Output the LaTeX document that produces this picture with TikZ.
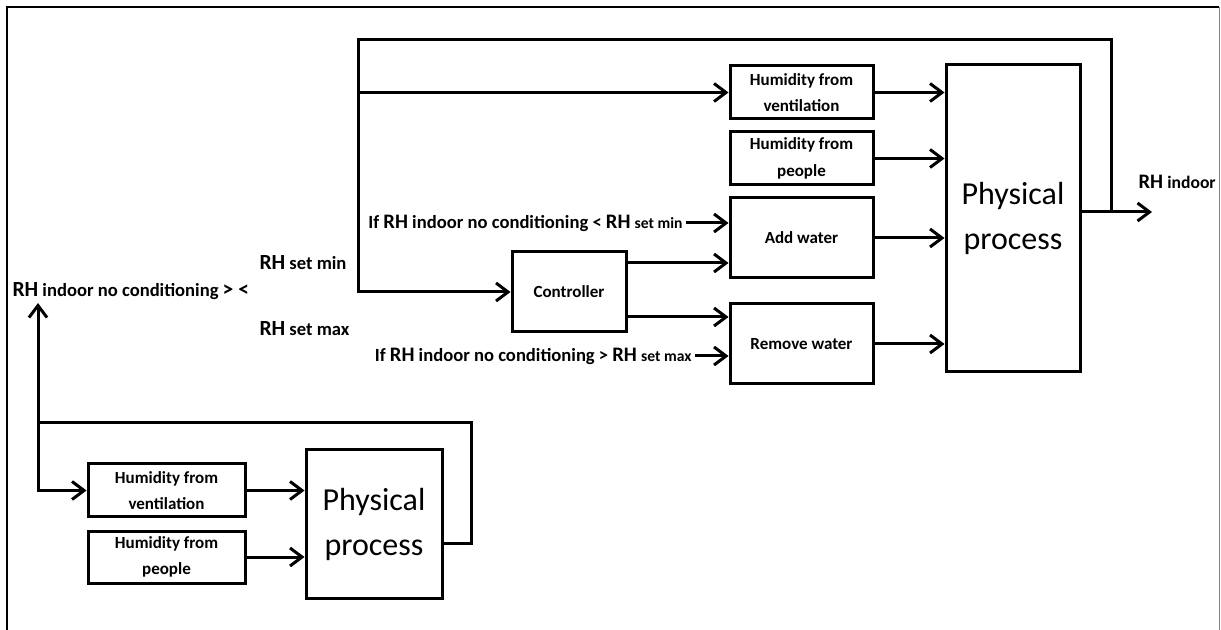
\documentclass[tikz,border=0pt]{standalone}
\usepackage{fontspec}
\setmainfont{Carlito}
\usepackage{tikz}
\usetikzlibrary{arrows.meta, calc}

\newcommand{\rh}{{\fontsize{10.8}{12}\selectfont RH}}
\newcommand{\rhs}{{\fontsize{10.3}{12}\selectfont RH}}

\begin{document}
\begin{tikzpicture}[x=0.5pt, y=-0.5pt,
    line width=1.5pt,
    blk/.style={draw, line width=1.5pt, inner sep=0pt, align=center,
      font=\bfseries\fontsize{8.5}{13.3}\selectfont},
    proc/.style={draw, line width=1.5pt, inner sep=0pt, align=center,
      font=\fontsize{16}{22.5}\selectfont},
    lbl/.style={inner sep=1pt, font=\bfseries\fontsize{9.3}{11}\selectfont},
    arr/.style={-{Straight Barb[length=6pt,width=9pt]}}]

  \useasboundingbox (0,0) rectangle (1221,630);

  %% Frame
  \draw[line width=1pt] (7,630) -- (7,7) -- (1219,7);
  \draw[line width=0.5pt, gray] (1219,7) -- (1219,630);

  %% Upper loop: with conditioning
  \node[blk, minimum width=71.5pt, minimum height=26.5pt] (uvent) at (801.5,92.5)
    {Humidity from\\ventilation};
  \node[blk, minimum width=71.5pt, minimum height=26.5pt] (upeople) at (801.5,158.5)
    {Humidity from\\people};
  \node[blk, minimum width=71.5pt, minimum height=40pt] (addw) at (801.5,238)
    {Add water};
  \node[blk, minimum width=71.5pt, minimum height=40pt] (remw) at (801.5,344)
    {Remove water};
  \node[proc, minimum width=67pt, minimum height=153.5pt] (uphys) at (1013,218.5)
    {Physical\\process};
  \node[blk, minimum width=57pt, minimum height=40pt] (ctrl) at (569,292)
    {Controller};

  \node[lbl, anchor=east] (ifmin) at (686,223)
    {If \rhs{} indoor no conditioning < \rhs{} {\fontsize{7.8}{9}\selectfont set min}};
  \node[lbl, anchor=east] (ifmax) at (695,356)
    {If \rhs{} indoor no conditioning > \rhs{} {\fontsize{7.8}{9}\selectfont set max}};

  \draw[arr] (uvent.east) -- (uvent.east -| uphys.west);
  \draw[arr] (upeople.east) -- (upeople.east -| uphys.west);
  \draw[arr] (addw.east) -- (addw.east -| uphys.west);
  \draw[arr] (remw.east) -- (remw.east -| uphys.west);
  \draw[arr] (ifmin.east) -- (ifmin.east -| addw.west);
  \draw[arr] (ifmax.east) -- (ifmax.east -| remw.west);

  \coordinate (c1) at ($(ctrl.east)+(0,-29)$);
  \coordinate (c2) at ($(ctrl.east)+(0,25)$);
  \draw[arr] (c1) -- (c1 -| addw.west);
  \draw[arr] (c2) -- (c2 -| remw.west);

  %% Output and feedback
  \coordinate (out) at (1152,212);
  \coordinate (fb) at (1111,212);
  \coordinate (tl) at (358,40);
  \draw[arr] (uphys.east |- out) -- (out);
  \node[lbl, anchor=south west] (rhin) at (1135,192)
    {\rhs{} {\fontsize{8.8}{10}\selectfont indoor}};
  \draw[arr] (fb) |- (tl) |- (ctrl.west);
  \draw[arr] (uvent.west -| tl) -- (uvent.west);

  %% Comparison labels
  \node[lbl, anchor=west] (rhnc) at (9,291)
    {\rh{} indoor no conditioning {\fontsize{10.8}{12}\selectfont > <}};
  \node[lbl, anchor=west] (rhmin) at (256,263) {\rh{} set min};
  \node[lbl, anchor=west] (rhmax) at (256,329) {\rh{} set max};

  %% Lower loop: no conditioning
  \node[blk, minimum width=78.5pt, minimum height=26.5pt] (lvent) at (166.5,490.5)
    {Humidity from\\ventilation};
  \node[blk, minimum width=78.5pt, minimum height=26pt] (lpeople) at (166.5,557)
    {Humidity from\\people};
  \node[proc, minimum width=68pt, minimum height=74pt] (lphys) at (374,524)
    {Physical\\process};

  \draw[arr] (lvent.east) -- (lvent.east -| lphys.west);
  \draw[arr] (lpeople.east) -- (lpeople.east -| lphys.west);

  \coordinate (lo) at ($(lphys.east)+(0,19)$);
  \coordinate (lj) at (38,423);
  \draw (lo) -| (471,423) -- (lj);
  \draw[arr] (lj) |- (lvent.west);
  \draw[arr] (lj) -- (lj |- rhnc.south);

\end{tikzpicture}
\end{document}
